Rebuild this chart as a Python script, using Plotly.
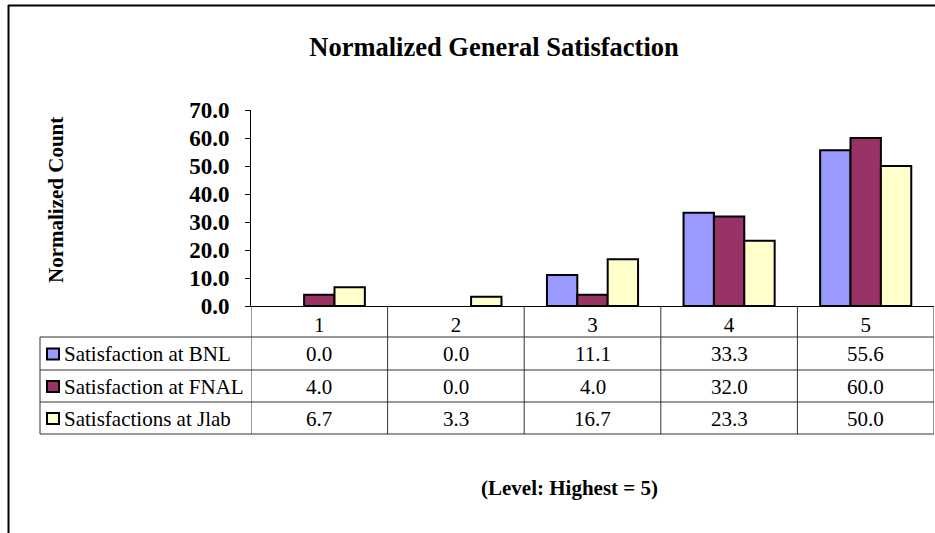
import plotly.graph_objects as go

# ---- data ----
levels = [1, 2, 3, 4, 5]
level_labels = ["1", "2", "3", "4", "5"]
series_names = ["Satisfaction at BNL", "Satisfaction at FNAL", "Satisfactions at Jlab"]
bnl = [0.0, 0.0, 11.1, 33.3, 55.6]
fnal = [4.0, 0.0, 4.0, 32.0, 60.0]
jlab = [6.7, 3.3, 16.7, 23.3, 50.0]
colors = ["#9999FF", "#993366", "#FFFFCC"]
all_series = [bnl, fnal, jlab]

W, H = 935, 533
# plot area in page pixels
PL, PR, PT, PB = 251, 934, 110, 306
ML = PL
MT = PT
MR = W - PR
MB = H - PB
PW = W - ML - MR
PH = H - MT - MB
FONT = "Liberation Serif, Times New Roman, serif"


def px(x):
    return (x - PL) / PW


def py(y):
    return (PB - y) / PH


fig = go.Figure()
for name, vals, col in zip(series_names, all_series, colors):
    fig.add_trace(go.Bar(
        x=levels, y=vals, name=name,
        marker=dict(color=col, line=dict(color="black",
                                         width=[0 if v == 0 else 2 for v in vals])),
        showlegend=False,
    ))

shapes = []
annotations = []
line_col = "#333333"

row_lines = [337, 370, 402, 434]
table_left = 40

for yy in row_lines:
    shapes.append(dict(type="line", xref="paper", yref="paper",
                       x0=px(table_left), x1=1, y0=py(yy), y1=py(yy),
                       line=dict(color=line_col, width=1)))
shapes.append(dict(type="line", xref="paper", yref="paper",
                   x0=px(table_left), x1=px(table_left), y0=py(row_lines[0]), y1=py(row_lines[-1]),
                   line=dict(color=line_col, width=1)))
for b in [lv - 0.5 for lv in levels] + [levels[-1] + 0.5]:
    shapes.append(dict(type="line", xref="x", yref="paper",
                       x0=b, x1=b, y0=0, y1=py(row_lines[-1]),
                       line=dict(color=line_col, width=1)))

for i, (name, vals, col) in enumerate(zip(series_names, all_series, colors)):
    top, bot = row_lines[i], row_lines[i + 1]
    cy = (top + bot) / 2
    shapes.append(dict(type="rect", xref="paper", yref="paper",
                       x0=px(47), x1=px(59), y0=py(cy - 5), y1=py(cy + 6),
                       fillcolor=col, line=dict(color="black", width=2)))
    annotations.append(dict(xref="paper", yref="paper", x=px(62), y=py(cy + 0.5),
                            text=name, showarrow=False, xanchor="left", yanchor="middle",
                            font=dict(family=FONT, size=21, color="black")))
    for lv, v in zip(levels, vals):
        annotations.append(dict(xref="x", yref="paper", x=lv, y=py(cy + 0.5),
                                text=f"{v:.1f}", showarrow=False, xanchor="center", yanchor="middle",
                                font=dict(family=FONT, size=21, color="black")))

# outer border (top and left)
shapes.append(dict(type="line", xref="paper", yref="paper",
                   x0=px(8), x1=px(W + 20), y0=py(5.5), y1=py(5.5),
                   line=dict(color="black", width=2)))
shapes.append(dict(type="line", xref="paper", yref="paper",
                   x0=px(8.5), x1=px(8.5), y0=py(5), y1=py(H + 20),
                   line=dict(color="black", width=2)))

annotations.append(dict(xref="paper", yref="paper", x=px(56), y=py(200),
                        text="<b>Normalized Count</b>", textangle=-90, showarrow=False,
                        xanchor="center", yanchor="middle",
                        font=dict(family=FONT, size=21, color="black")))
annotations.append(dict(xref="paper", yref="paper", x=px(569), y=py(488),
                        text="<b>(Level: Highest = 5)</b>", showarrow=False,
                        xanchor="center", yanchor="middle",
                        font=dict(family=FONT, size=21, color="black")))

fig.update_layout(
    width=W, height=H,
    margin=dict(l=ML, r=MR, t=MT, b=MB),
    paper_bgcolor="white", plot_bgcolor="white",
    barmode="group", bargap=0.333, bargroupgap=0,
    hovermode=False,
    title=dict(text="<b>Normalized General Satisfaction</b>", xref="container", yref="container",
               x=494 / W, y=1 - 47 / H, xanchor="center", yanchor="middle",
               font=dict(family=FONT, size=26.5, color="black")),
    xaxis=dict(range=[0.5, 5.5], tickmode="array", tickvals=levels, ticktext=level_labels,
               showline=True, linecolor="black", linewidth=1, ticks="",
               showgrid=False, zeroline=False, ticklabelstandoff=0,
               tickfont=dict(family=FONT, size=21, color="black")),
    yaxis=dict(range=[0, 70], dtick=10, tickformat=".1f", showline=True, linecolor="black",
               linewidth=1, ticks="outside", ticklen=5, tickcolor="black",
               showgrid=False, zeroline=False, ticklabelstandoff=11,
               tickfont=dict(family=FONT, size=23, color="black", weight="bold")),
    shapes=shapes, annotations=annotations,
)

fig.write_html(
    "out.html",
    config={"displayModeBar": False},
    post_script="document.body.style.margin='0';document.body.style.overflow='hidden';",
)
